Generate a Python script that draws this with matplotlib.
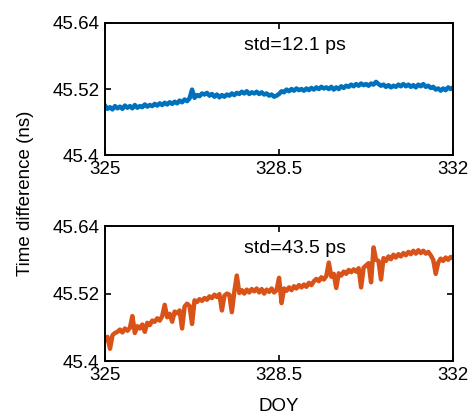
import numpy as np
import matplotlib
matplotlib.use('Agg')
import matplotlib.pyplot as plt

plt.rcParams['font.family'] = ['Liberation Sans', 'DejaVu Sans']

# Day of year, sampled every 0.05 day
doy = np.linspace(325, 332, 141)

# Time difference (ns), link 1
td_1 = [
    45.490, 45.484, 45.487, 45.483, 45.489, 45.485, 45.488, 45.484, 45.490, 45.486,
    45.489, 45.485, 45.491, 45.486, 45.489, 45.487, 45.492, 45.488, 45.491, 45.489,
    45.493, 45.490, 45.494, 45.491, 45.495, 45.492, 45.496, 45.493, 45.497, 45.494,
    45.499, 45.496, 45.501, 45.498, 45.503, 45.519, 45.504, 45.509, 45.507, 45.512,
    45.510, 45.513, 45.508, 45.511, 45.506, 45.510, 45.505, 45.509, 45.506, 45.510,
    45.508, 45.512, 45.509, 45.513, 45.511, 45.515, 45.512, 45.516, 45.511, 45.514,
    45.512, 45.515, 45.511, 45.514, 45.510, 45.512, 45.508, 45.510, 45.506, 45.508,
    45.511, 45.516, 45.514, 45.519, 45.516, 45.520, 45.517, 45.521, 45.518, 45.520,
    45.517, 45.521, 45.518, 45.522, 45.519, 45.523, 45.520, 45.524, 45.521, 45.523,
    45.520, 45.524, 45.519, 45.523, 45.520, 45.525, 45.522, 45.526, 45.524, 45.528,
    45.525, 45.529, 45.526, 45.530, 45.527, 45.529, 45.526, 45.530, 45.528, 45.533,
    45.529, 45.526, 45.528, 45.524, 45.527, 45.523, 45.526, 45.524, 45.528, 45.525,
    45.529, 45.525, 45.528, 45.524, 45.527, 45.523, 45.528, 45.525, 45.529, 45.524,
    45.526, 45.522, 45.524, 45.519, 45.521, 45.517, 45.521, 45.518, 45.523, 45.520,
    45.523,
]

# Time difference (ns), link 2
td_2 = [
    45.437, 45.443, 45.422, 45.446, 45.450, 45.452, 45.456, 45.451, 45.458, 45.454,
    45.459, 45.480, 45.450, 45.462, 45.458, 45.465, 45.452, 45.468, 45.464, 45.472,
    45.470, 45.476, 45.472, 45.480, 45.500, 45.478, 45.484, 45.470, 45.488, 45.485,
    45.490, 45.458, 45.497, 45.502, 45.498, 45.466, 45.508, 45.505, 45.510, 45.507,
    45.512, 45.509, 45.515, 45.512, 45.518, 45.514, 45.519, 45.490, 45.516, 45.520,
    45.518, 45.487, 45.523, 45.552, 45.521, 45.526, 45.520, 45.527, 45.522, 45.528,
    45.524, 45.529, 45.522, 45.528, 45.520, 45.527, 45.523, 45.529, 45.522, 45.526,
    45.548, 45.503, 45.529, 45.525, 45.531, 45.526, 45.533, 45.529, 45.535, 45.531,
    45.536, 45.532, 45.539, 45.535, 45.542, 45.546, 45.542, 45.549, 45.545, 45.551,
    45.575, 45.550, 45.555, 45.530, 45.556, 45.552, 45.559, 45.555, 45.562, 45.558,
    45.563, 45.559, 45.565, 45.531, 45.566, 45.570, 45.574, 45.540, 45.602, 45.580,
    45.578, 45.545, 45.583, 45.578, 45.586, 45.581, 45.589, 45.584, 45.590, 45.586,
    45.592, 45.588, 45.594, 45.590, 45.596, 45.591, 45.597, 45.592, 45.596, 45.591,
    45.594, 45.588, 45.580, 45.555, 45.575, 45.582, 45.578, 45.584, 45.580, 45.585,
    45.583,
]

std_labels = ['std=12.1 ps', 'std=43.5 ps']
colors = ['#0072BD', '#D95319']
xticks = [325, 328.5, 332]
yticks = [45.4, 45.52, 45.64]

fig = plt.figure(figsize=(4.72, 4.17), dpi=100)
ax1 = fig.add_axes([0.2225, 0.628, 0.7375, 0.317])
ax2 = fig.add_axes([0.2225, 0.134, 0.7375, 0.324])

for ax, td, c, lab in zip([ax1, ax2], [td_1, td_2], colors, std_labels):
    ax.plot(doy, td, color=c, lw=3.2, solid_joinstyle='round')
    ax.set_xlim(325, 332)
    ax.set_ylim(45.4, 45.64)
    ax.set_xticks(xticks)
    ax.set_xticklabels(['325', '328.5', '332'])
    ax.set_yticks(yticks)
    ax.set_yticklabels(['45.4', '45.52', '45.64'])
    ax.tick_params(direction='in', top=True, right=True, length=4, width=1.2,
                   labelsize=13.5, pad=4)
    for s in ax.spines.values():
        s.set_linewidth(1.4)
    ax.text(0.545, 0.83, lab, transform=ax.transAxes, ha='center', va='center',
            fontsize=14)

ax2.set_xlabel('DOY', fontsize=13.5, labelpad=10)
fig.text(0.055, 0.537, 'Time difference (ns)', rotation=90, ha='center',
         va='center', fontsize=13.5)

fig.savefig('out.png', dpi=100)
